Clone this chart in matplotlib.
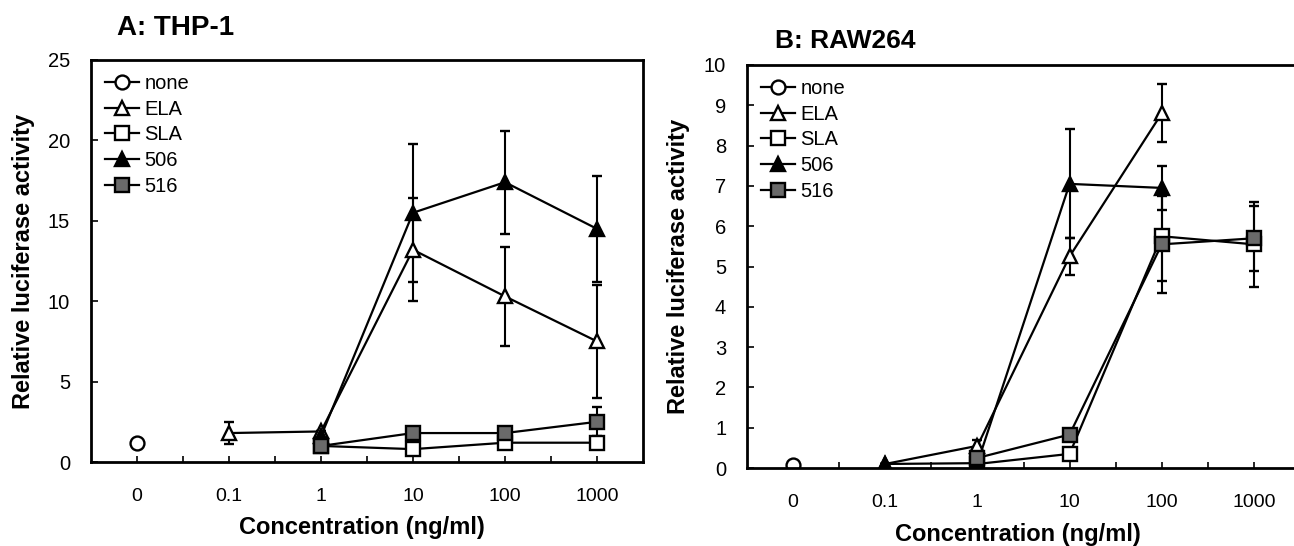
import numpy as np
import matplotlib.pyplot as plt

plt.rcParams['font.family'] = ['Liberation Sans', 'DejaVu Sans']

conc = ['0', '0.1', '1', '10', '100', '1000']
names = ['none', 'ELA', 'SLA', '506', '516']
nan = np.nan

# A: THP-1
a_none = [1.2, nan, nan, nan, nan, nan]
a_ela = [nan, 1.8, 1.9, 13.2, 10.3, 7.5]
a_ela_err = [0, 0.7, 0, 3.2, 3.1, 3.5]
a_sla = [nan, nan, 1.0, 0.8, 1.2, 1.2]
a_sla_err = [0, 0, 0, 0, 0.35, 0]
a_506 = [nan, nan, 1.6, 15.5, 17.4, 14.5]
a_506_err = [0, 0, 0, 4.3, 3.2, 3.3]
a_516 = [nan, nan, 1.0, 1.8, 1.8, 2.5]
a_516_err = [0, 0, 0, 0, 0, 0.9]

# B: RAW264
b_none = [0.08, nan, nan, nan, nan, nan]
b_ela = [nan, 0.1, 0.55, 5.25, 8.8, nan]
b_ela_err = [0, 0, 0.15, 0.45, 0.72, 0]
b_sla = [nan, nan, 0.1, 0.35, 5.75, 5.55]
b_sla_err = [0, 0, 0, 0, 1.1, 1.05]
b_506 = [nan, 0.1, 0.12, 7.05, 6.95, nan]
b_506_err = [0, 0, 0, 1.35, 0.55, 0]
b_516 = [nan, nan, 0.25, 0.83, 5.55, 5.7]
b_516_err = [0, 0, 0, 0, 1.2, 0.8]

x = np.arange(len(conc))

fig = plt.figure(figsize=(12.94, 5.46), dpi=100)
axA = fig.add_axes([91 / 1294, 84 / 546, 552 / 1294, 402 / 546])
axB = fig.add_axes([747 / 1294, 78 / 546, 553 / 1294, 403 / 546])


def draw(ax, none, ela, ela_e, sla, sla_e, s506, s506_e, s516, s516_e):
    kw = dict(color='black', lw=1.6, ms=10, mew=1.7, elinewidth=1.5,
              capsize=3.5, capthick=1.5)
    series = [
        (none, None, 'o', 'white'),
        (ela, ela_e, '^', 'white'),
        (sla, sla_e, 's', 'white'),
        (s506, s506_e, '^', 'black'),
        (s516, s516_e, 's', '#6a6a6a'),
    ]
    handles = []
    for y, e, m, fc in series:
        c = ax.errorbar(x, y, yerr=e, fmt='-' + m, mfc=fc, **kw)
        handles.append(c[0])
    ax.set_xlim(-0.5, 5.5)
    ax.set_xticks(x)
    ax.set_xticks(x[:-1] + 0.5, minor=True)
    ax.set_xticklabels(conc)
    ax.tick_params(axis='x', which='both', direction='in', length=4, width=1.2,
                   pad=19, labelsize=14)
    ax.tick_params(axis='y', direction='in', length=5, width=1.2, pad=15,
                   labelsize=14.5)
    for s in ax.spines.values():
        s.set_linewidth(2)
    ax.set_ylabel('Relative luciferase activity', fontsize=17,
                  fontweight='bold', va='center')
    ax.yaxis.set_label_coords(-0.123, 0.5)
    ax.set_xlabel('Concentration (ng/ml)', fontsize=17, fontweight='bold',
                  va='center')
    ax.xaxis.set_label_coords(0.49, -0.164)
    ax.legend(handles, names, loc='upper left', frameon=False, fontsize=14.5,
              handlelength=1.7, handletextpad=0.25, labelspacing=0.33,
              borderaxespad=0.4, borderpad=0.3)


draw(axA, a_none, a_ela, a_ela_err, a_sla, a_sla_err, a_506, a_506_err,
     a_516, a_516_err)
axA.set_ylim(0, 25)
axA.set_yticks([0, 5, 10, 15, 20, 25])

draw(axB, b_none, b_ela, b_ela_err, b_sla, b_sla_err, b_506, b_506_err,
     b_516, b_516_err)
axB.set_ylim(0, 10)
axB.set_yticks(range(0, 11))

fig.text(117 / 1294, 1 - 28 / 546, 'A: THP-1', fontsize=20, fontweight='bold',
         va='center', ha='left')
fig.text(775 / 1294, 1 - 41 / 546, 'B: RAW264', fontsize=19, fontweight='bold',
         va='center', ha='left')

fig.savefig('out.png', dpi=100)
